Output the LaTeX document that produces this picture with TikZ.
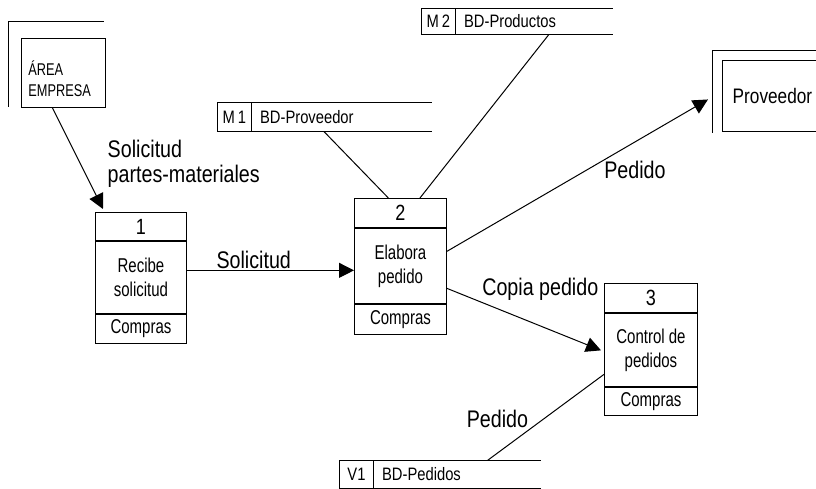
\documentclass[tikz,border=0pt]{standalone}
\usepackage{fontspec}
\setmainfont{Liberation Sans}[FakeStretch=0.82]
\newfontfamily\boxfont{Liberation Sans}[FakeStretch=0.75]
\usepackage{tikz}
\usetikzlibrary{arrows.meta,positioning,calc}

\begin{document}
\begin{tikzpicture}[
  x=1pt, y=-1pt,
  font=\boxfont\fontsize{20}{24}\selectfont,
  procid/.style={draw, line width=0.9pt, minimum width=92pt, minimum height=29pt, inner sep=0pt,
                 font=\fontsize{22}{22}\selectfont},
  procbody/.style={draw, line width=0.9pt, minimum width=92pt, minimum height=74pt, inner sep=0pt, align=center},
  procdept/.style={draw, line width=0.9pt, minimum width=92pt, minimum height=29pt, inner sep=0pt},
  entbox/.style={draw, line width=0.9pt, inner sep=0pt},
  storeid/.style={draw, line width=0.9pt, minimum width=34pt, minimum height=28pt, inner sep=0pt,
                  font=\fontsize{18}{22}\selectfont},
  storename/.style={minimum height=28pt, inner xsep=8pt, inner ysep=0pt, align=left,
                    font=\fontsize{18}{22}\selectfont},
  flow/.style={-{Triangle[length=15pt,width=15pt]}, line width=1pt},
  link/.style={line width=1pt},
  lbl/.style={font=\fontsize{24}{25}\selectfont, inner sep=1pt}
]
\useasboundingbox (0,0) rectangle (816,489);
% ---- external entities ----
\node[entbox, anchor=north west, minimum width=84pt, minimum height=69pt, inner xsep=7pt,
      text width=70pt, text depth=10pt, align=left, font=\boxfont\fontsize{17}{21}\selectfont] (area)
      at (21,38) {ÁREA\\EMPRESA};
\draw[link] ($(area.south west)+(-13,-1)$) |- ($(area.north east)+(-2,-16)$);
\node[entbox, anchor=north west, minimum width=100pt, minimum height=71pt,
      font=\fontsize{21}{21}\selectfont] (prov) at (722,60) {Proveedor};
\draw[link] ($(prov.south west)+(-10,1)$) |- ($(prov.north east)+(0,-9)$);
% ---- processes ----
\node[procid, anchor=north west, minimum width=91pt, minimum height=28pt] (p1) at (95,212) {1};
\node[procbody, below=0pt of p1, minimum width=91pt, minimum height=72pt] (p1b) {Recibe\\solicitud};
\node[procdept, below=0pt of p1b, minimum width=91pt] (p1d) {Compras};
\node[procid, anchor=north west] (p2) at (354,198) {2};
\node[procbody, below=0pt of p2, minimum height=75pt] (p2b) {Elabora\\pedido};
\node[procdept, below=0pt of p2b, minimum height=30pt] (p2d) {Compras};
\node[procid, anchor=north west, minimum width=93pt] (p3) at (604,283) {3};
\node[procbody, below=0pt of p3, minimum width=93pt, minimum height=73pt] (p3b) {Control de\\pedidos};
\node[procdept, below=0pt of p3b, minimum width=93pt, minimum height=28pt] (p3d) {Compras};
% ---- data stores ----
\node[storeid, anchor=north west, minimum height=29pt] (m1) at (217,102) {M\,1};
\node[storename, right=0pt of m1, minimum height=29pt, text width=164pt] (m1n) {BD-Proveedor};
\draw[link] (m1n.north west) -- (m1n.north east) (m1n.south west) -- (m1n.south east);
\node[storeid, anchor=north west, minimum height=26pt] (m2) at (421,8) {M\,2};
\node[storename, right=0pt of m2, minimum height=26pt, text width=141pt] (m2n) {BD-Productos};
\draw[link] (m2n.north west) -- (m2n.north east) (m2n.south west) -- (m2n.south east);
\node[storeid, anchor=north west] (v1) at (339,460) {V1};
\node[storename, right=0pt of v1, text width=151pt] (v1n) {BD-Pedidos};
\draw[link] (v1n.north west) -- (v1n.north east) (v1n.south west) -- (v1n.south east);
% ---- flows ----
\coordinate (tip1) at ($(p1.north west)+(8,-3)$);
\draw[flow] ($(area.south west)!0.37!(area.south east)$) -- (tip1)
  node[lbl, pos=0.55, right=26pt, align=left]{Solicitud\\partes-materiales};
\draw[flow] ($(p1b.east)+(0,-7)$) -- ($(p1b.east -| p2b.west)+(0,-7)$)
  node[lbl, pos=0.4, above]{Solicitud};
\draw[flow] ($(p2b.east)+(0,-14.5)$) -- ($(prov.west)+(-14,3.5)$)
  node[lbl, pos=0.6, below right=-1pt]{Pedido};
\draw[flow] ($(p2b.east)+(0,22.5)$) -- ($(p3b.west)+(-3,0.5)$)
  node[lbl, pos=0.22, above right]{Copia pedido};
\draw[link] ($(m1n.south west)!0.4!(m1n.south east)$) -- ($(p2.north west)!0.37!(p2.north east)$);
\draw[link] ($(m2n.south west)!0.59!(m2n.south east)$) -- ($(p2.north west)!0.71!(p2.north east)$);
\draw[link] ($(v1n.north west)!0.68!(v1n.north east)$) -- ($(p3b.west)+(0,24.5)$)
  node[lbl, pos=0.36, above left]{Pedido};
\end{tikzpicture}
\end{document}
